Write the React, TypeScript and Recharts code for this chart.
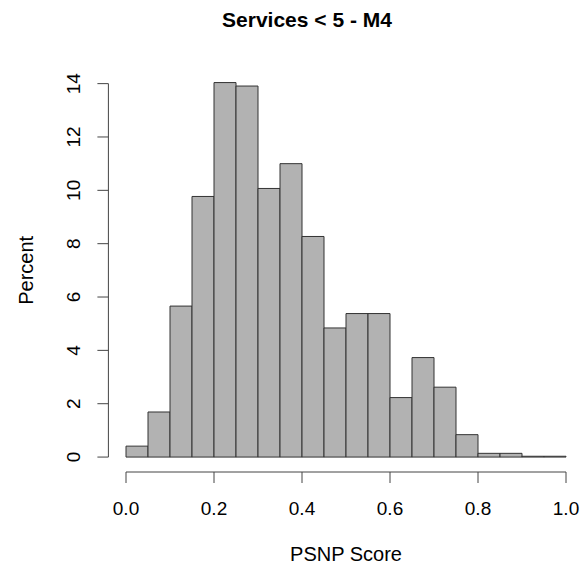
import React from "react";
import { BarChart, Bar, XAxis, YAxis, ReferenceLine, Label } from "recharts";

const FONT = '"Liberation Sans", Arial, Helvetica, sans-serif';

// histogram bins (lower edge, width 0.05)
const binStarts = [0, 0.05, 0.1, 0.15, 0.2, 0.25, 0.3, 0.35, 0.4, 0.45, 0.5, 0.55, 0.6, 0.65, 0.7, 0.75, 0.8, 0.85, 0.9, 0.95];
const percents = [0.41, 1.69, 5.66, 9.77, 14.04, 13.91, 10.07, 11.0, 8.27, 4.84, 5.38, 5.38, 2.23, 3.73, 2.62, 0.84, 0.14, 0.14, 0.03, 0.03];
const BIN_WIDTH = 0.05;

const xTicks = [0, 0.2, 0.4, 0.6, 0.8, 1.0];
const yTicks = [0, 2, 4, 6, 8, 10, 12, 14];

const data = binStarts.map((s, i) => ({ mid: s + BIN_WIDTH / 2, pct: percents[i] }));

const YTick = (props: any) => {
    const { x, y, payload } = props;
    const bx = x - 17;
    return (
        <text x={bx} y={y} transform={`rotate(-90, ${bx}, ${y})`} textAnchor="middle"
            fontSize={19} fontFamily={FONT} fill="#000">
            {payload.value}
        </text>
    );
};

const App = () => {
    return (
        <div style={{ position: "absolute", left: 0, top: 0, width: 587, height: 573, background: "#fff" }}>
            <div style={{
                position: "absolute", left: 0, top: 9, width: 614, textAlign: "center",
                fontFamily: FONT, fontWeight: "bold", fontSize: 21, lineHeight: "21px", color: "#000"
            }}>
                Services &lt; 5 - M4
            </div>
            <BarChart width={587} height={573} data={data}
                margin={{ top: 68.7, right: 3.4, left: 48.4, bottom: 41 }}
                barCategoryGap={0} barGap={0}>
                <XAxis dataKey="mid" type="number" domain={[-0.04, 1.04]} allowDataOverflow
                    ticks={xTicks} interval={0} height={60}
                    axisLine={false} tickLine={{ stroke: "#444" }} tickSize={11} tickMargin={19}
                    tickFormatter={(v: number) => v.toFixed(1)}
                    tick={{ fill: "#000", fontSize: 19, fontFamily: FONT }}>
                    <Label value="PSNP Score" position="bottom" offset={15}
                        style={{ fill: "#000", fontSize: 20, fontFamily: FONT }} />
                </XAxis>
                <YAxis type="number" domain={[-0.56, 14.56]} allowDataOverflow ticks={yTicks}
                    interval={0} width={60} axisLine={false} tickLine={{ stroke: "#444" }}
                    tickSize={11} tickMargin={0} tick={<YTick />}>
                    <Label content={(p: any) => {
                        const vb = p.viewBox;
                        const bx = vb.x + vb.width - 75.5;
                        const cy = vb.y + vb.height / 2;
                        return (
                            <text x={bx} y={cy} transform={`rotate(-90, ${bx}, ${cy})`} textAnchor="middle"
                                fontSize={20} fontFamily={FONT} fill="#000">Percent</text>
                        );
                    }} />
                </YAxis>
                <ReferenceLine segment={[{ x: 0, y: -0.56 }, { x: 1, y: -0.56 }]} stroke="#444" strokeWidth={1} />
                <ReferenceLine segment={[{ x: -0.04, y: 0 }, { x: -0.04, y: 14 }]} stroke="#444" strokeWidth={1} />
                <Bar dataKey="pct" fill="#B2B2B2" stroke="#333" strokeWidth={1} isAnimationActive={false} />
            </BarChart>
        </div>
    );
};

export default App;
